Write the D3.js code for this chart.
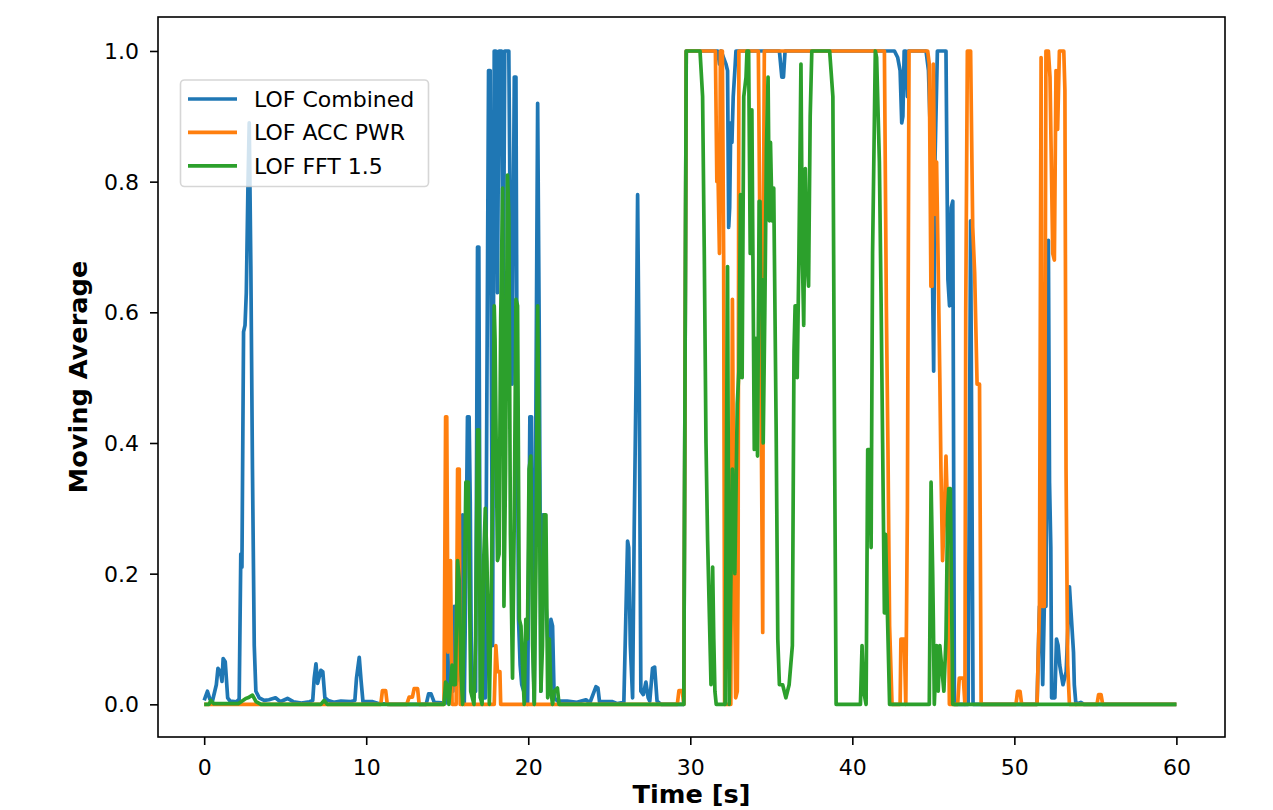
<!DOCTYPE html>
<html>
<head>
<meta charset="utf-8">
<script src="https://cdn.jsdelivr.net/npm/d3@7"></script>
<style>
  body { margin: 0; background: #fff; }
  svg { display: block; font-family: "DejaVu Sans", sans-serif; }
</style>
</head>
<body>
<div id="chart"></div>
<script>
// values: [time (s), moving average]
const combined = [[0,0.006],[0.2,0.02],[0.35,0.008],[0.5,0.004],[0.75,0.03],[0.85,0.055],[1.0,0.05],[1.1,0.035],[1.17,0.07],[1.3,0.065],[1.45,0.01],[1.6,0.005],[2.0,0.004],[2.16,0.008],[2.26,0.23],[2.33,0.21],[2.43,0.57],[2.52,0.58],[2.6,0.63],[2.7,0.79],[2.78,0.89],[2.88,0.67],[2.98,0.36],[3.09,0.09],[3.19,0.02],[3.4,0.01],[3.7,0.006],[4.0,0.007],[4.4,0.01],[4.7,0.004],[5.14,0.009],[5.5,0.004],[6.0,0.002],[6.5,0.004],[6.7,0.006],[6.79,0.04],[6.9,0.062],[7.0,0.032],[7.2,0.052],[7.32,0.05],[7.45,0.01],[7.65,0.006],[8.0,0.003],[8.44,0.005],[9.0,0.004],[9.3,0.006],[9.4,0.04],[9.57,0.072],[9.68,0.037],[9.8,0.004],[10.4,0.004],[10.8,0.001],[11.5,0],[13.7,0],[13.85,0.016],[14.0,0.016],[14.2,0.003],[14.9,0.002],[15.0,0.11],[15.1,0.03],[15.35,0.02],[15.43,0.15],[15.5,0.03],[15.8,0.05],[15.95,0.29],[16.05,0],[16.15,0.2],[16.25,0.44],[16.35,0.44],[16.42,0.31],[16.5,0.02],[16.75,0.02],[16.87,0.70],[16.95,0.70],[17.05,0.01],[17.35,0.01],[17.55,0.97],[17.65,0.97],[17.8,0.09],[17.9,1.0],[18.0,1.0],[18.1,0.63],[18.2,1.0],[18.35,1.0],[18.45,0.56],[18.55,1.0],[18.8,1.0],[18.9,0.69],[19.0,0.49],[19.14,0.96],[19.24,0.96],[19.3,0.56],[19.4,0.13],[19.5,0.06],[19.6,0.03],[19.96,0],[20.1,0.44],[20.2,0.44],[20.3,0.09],[20.37,0],[20.58,0.92],[20.68,0.56],[20.78,0.02],[20.9,0.29],[21.0,0.29],[21.1,0.15],[21.3,0.05],[21.4,0.13],[21.5,0.12],[21.6,0.01],[21.8,0.005],[22.4,0.005],[23.0,0.003],[23.56,0.007],[23.8,0.002],[24.18,0.027],[24.3,0.025],[24.4,0.004],[25.2,0.004],[25.5,0.001],[25.9,0.003],[26.13,0.25],[26.2,0.24],[26.3,0.09],[26.44,0.01],[26.54,0.27],[26.65,0.49],[26.75,0.78],[26.85,0.49],[26.95,0.02],[27.1,0.015],[27.26,0.034],[27.4,0.01],[27.5,0.005],[27.67,0.055],[27.8,0.057],[27.95,0.005],[28.2,0],[29.6,0],[29.75,1.0],[31.7,1.0],[31.8,0.98],[31.9,1.0],[32.2,0.98],[32.3,0.97],[32.37,0.73],[32.43,0.76],[32.5,0.89],[32.57,0.86],[32.65,0.93],[32.75,0.97],[32.82,1.0],[35.5,1.0],[35.65,0.96],[35.75,0.96],[35.85,1.0],[42.6,1.0],[42.8,0.99],[42.95,0.97],[43.05,0.89],[43.12,0.9],[43.2,1.0],[43.3,1.0],[43.4,0.93],[43.45,1.0],[44.55,1.0],[44.7,0.97],[44.9,0.8],[44.96,0.63],[45.02,0.51],[45.1,0.83],[45.25,1.0],[45.78,1.0],[45.9,0.65],[46.0,0.61],[46.1,0.76],[46.2,0.77],[46.3,0],[47.15,0],[47.3,0.74],[47.45,0],[51.4,0],[51.55,0.15],[51.65,0.15],[51.75,0.03],[51.85,0.15],[51.95,0.15],[52.1,0.71],[52.17,0.34],[52.25,0.24],[52.3,0.01],[52.5,0.01],[52.6,0.10],[52.7,0.09],[52.8,0.06],[53.0,0.03],[53.2,0.05],[53.4,0.18],[53.5,0.14],[53.6,0.1],[53.65,0.08],[53.7,0.03],[53.8,0],[54.1,0.003],[54.3,0],[60,0]];

const accPwr = [[0,0],[10.9,0],[11.0,0.021],[11.2,0.021],[11.3,0],[12.5,0],[12.65,0.011],[12.85,0.011],[12.96,0.024],[13.17,0.024],[13.27,0],[14.8,0],[14.9,0.44],[14.97,0.44],[15.05,0.08],[15.12,0.2],[15.2,0.22],[15.3,0],[15.55,0],[15.64,0.36],[15.74,0.36],[15.8,0],[17.9,0],[18.0,0.09],[18.1,0.05],[18.25,0.05],[18.3,0],[29.2,0],[29.3,0.021],[29.5,0.021],[29.6,0],[29.75,1.0],[31.55,1.0],[31.64,0.8],[31.72,0.8],[31.8,0.69],[31.86,1.0],[31.98,1.0],[32.06,0.68],[32.12,0],[32.5,0],[32.6,0.62],[32.68,0.3],[32.8,0.01],[32.9,0.02],[32.95,0.2],[33.0,1.0],[34.2,1.0],[34.3,0.71],[34.47,0.11],[34.52,0.77],[34.57,1.0],[41.98,1.0],[42.1,0.61],[42.2,0.39],[42.3,0.12],[42.45,0],[42.95,0],[43.0,0.1],[43.2,0.1],[43.3,0],[43.4,0.3],[43.5,1.0],[44.65,1.0],[44.75,0.98],[44.85,0.64],[44.92,0.64],[45.0,0.98],[45.1,0.75],[45.2,0.83],[45.3,0.67],[45.4,0.5],[45.47,0.36],[45.57,0.22],[45.7,0.3],[45.78,0.38],[45.88,0.29],[45.99,0],[46.5,0],[46.6,0.04],[46.85,0.04],[46.95,0],[47.0,0.6],[47.1,1.0],[47.3,1.0],[47.43,0.73],[47.55,0.66],[47.7,0.49],[47.85,0.49],[47.95,0],[50.1,0],[50.2,0.02],[50.35,0.02],[50.45,0],[51.4,0],[51.55,0.15],[51.65,0.99],[51.72,0.15],[51.85,0.15],[51.95,1.0],[52.1,1.0],[52.2,0.96],[52.37,0.69],[52.47,0.68],[52.57,0.97],[52.67,0.88],[52.78,1.0],[53.05,1.0],[53.12,0.94],[53.19,0.36],[53.29,0.06],[53.4,0],[55.1,0],[55.2,0.015],[55.35,0.015],[55.45,0],[60,0]];

const fft = [[0,0],[0.3,0],[0.41,0.006],[0.6,0.001],[2.1,0.001],[2.57,0.009],[2.7,0.01],[2.98,0.014],[3.2,0.004],[3.5,0],[7.2,0],[7.4,0.006],[7.6,0],[14.8,0],[14.9,0.034],[15.0,0.03],[15.1,0],[15.3,0.06],[15.4,0.03],[15.5,0.03],[15.64,0.22],[15.74,0.19],[15.85,0.05],[15.95,0],[16.05,0.15],[16.15,0.34],[16.3,0.34],[16.45,0.02],[16.65,0],[16.75,0.1],[16.87,0.42],[16.95,0.42],[17.05,0.01],[17.15,0],[17.25,0.22],[17.35,0.3],[17.45,0.22],[17.6,0],[17.75,0.22],[17.9,0.61],[17.95,0.56],[18.1,0.22],[18.2,0.23],[18.3,0.59],[18.42,0.79],[18.5,0.15],[18.6,0.36],[18.72,0.81],[18.8,0.75],[18.9,0.26],[19.03,0.04],[19.14,0.29],[19.24,0.62],[19.34,0.61],[19.45,0.13],[19.55,0.12],[19.75,0],[19.85,0.13],[19.95,0.1],[20.05,0.36],[20.16,0.38],[20.27,0.09],[20.37,0],[20.48,0.22],[20.58,0.61],[20.68,0.36],[20.78,0.02],[20.88,0.09],[20.99,0.29],[21.09,0.29],[21.2,0.01],[21.3,0.1],[21.4,0.02],[21.5,0],[21.6,0.02],[21.8,0.025],[21.9,0],[29.6,0],[29.75,1.0],[30.6,1.0],[30.76,0.93],[30.86,0.7],[30.97,0.40],[31.07,0.25],[31.28,0.03],[31.38,0.21],[31.45,0.10],[31.52,0.02],[31.6,0],[32.15,0],[32.3,0.67],[32.4,0],[32.6,0.36],[32.75,0.2],[32.9,0.46],[33.0,0.51],[33.1,0.78],[33.2,0.5],[33.3,0.93],[33.44,0.96],[33.5,1.0],[33.6,1.0],[33.7,0.69],[33.8,0.91],[33.95,0.39],[34.05,0.56],[34.15,0.38],[34.25,0.77],[34.3,0.77],[34.35,0.61],[34.42,0.65],[34.5,0.4],[34.6,0.6],[34.7,0.85],[34.8,0.96],[34.88,0.74],[34.95,0.86],[35.05,0.74],[35.15,0.79],[35.3,0.42],[35.4,0.10],[35.5,0.03],[35.7,0.03],[35.9,0.01],[36.1,0.03],[36.3,0.09],[36.4,0.54],[36.47,0.61],[36.53,0.61],[36.6,0.5],[36.7,0.68],[36.83,0.98],[36.92,0.68],[37.0,0.58],[37.1,0.82],[37.2,0.68],[37.3,0.64],[37.4,0.9],[37.5,1.0],[38.6,1.0],[38.8,0.93],[38.9,0.42],[39.0,0],[40.5,0],[40.6,0.09],[40.7,0.02],[40.85,0],[40.95,0.39],[41.05,0.39],[41.16,0.24],[41.25,0.69],[41.42,1.0],[41.5,0.99],[41.67,0.83],[41.77,0.63],[41.87,0.4],[41.98,0.14],[42.05,0.26],[42.3,0],[44.75,0],[44.86,0.34],[44.96,0.2],[45.0,0.13],[45.06,0],[45.2,0.09],[45.3,0.02],[45.4,0.09],[45.65,0.02],[45.78,0.1],[45.88,0.29],[45.95,0.33],[46.05,0.33],[46.2,0],[60,0]];

const seriesNames = ["LOF Combined", "LOF ACC PWR", "LOF FFT 1.5"];
const seriesColors = ["#1f77b4", "#ff7f0e", "#2ca02c"];
const xTicks = [0, 10, 20, 30, 40, 50, 60];
const yTicks = [0, 0.2, 0.4, 0.6, 0.8, 1.0];

const W = 1273, H = 810;
const margin = {top: 17, right: 48, bottom: 73, left: 158};
const FS = 22;      // ticks and legend
const LFS = 25.6;   // axis labels
const LW = 3.7;     // series line width

const svg = d3.select("#chart")
  .append("svg")
  .attr("width", W)
  .attr("height", H);

// scales
const x = d3.scaleLinear()
  .domain([-2.85, 63])
  .range([margin.left, W - margin.right]);
const y = d3.scaleLinear()
  .domain([-0.05, 1.052])
  .range([H - margin.bottom, margin.top]);

// lines
const line = d3.line()
  .x(d => x(d[0]))
  .y(d => y(d[1]));

[combined, accPwr, fft].forEach((data, i) => {
  svg.append("path")
    .datum(data)
    .attr("fill", "none")
    .attr("stroke", seriesColors[i])
    .attr("stroke-width", LW)
    .attr("stroke-linejoin", "round")
    .attr("d", line);
});

// X axis
const xAxis = svg.append("g")
  .attr("transform", `translate(0, ${H - margin.bottom})`)
  .call(d3.axisBottom(x).tickValues(xTicks).tickSize(8).tickFormat(d3.format("d")));
xAxis.select(".domain").remove();
xAxis.selectAll("line").attr("stroke", "#000").attr("stroke-width", 1.6);
xAxis.selectAll("text")
  .attr("y", 38).attr("dy", null)
  .attr("fill", "#000")
  .style("font-size", FS + "px")
  .style("font-family", "DejaVu Sans");

// Y axis
const yAxis = svg.append("g")
  .attr("transform", `translate(${margin.left}, 0)`)
  .call(d3.axisLeft(y).tickValues(yTicks).tickSize(8).tickFormat(d3.format(".1f")));
yAxis.select(".domain").remove();
yAxis.selectAll("line").attr("stroke", "#000").attr("stroke-width", 1.6);
yAxis.selectAll("text")
  .attr("x", -19).attr("dy", "0.34em")
  .attr("fill", "#000")
  .style("font-size", FS + "px")
  .style("font-family", "DejaVu Sans");

// frame
svg.append("rect")
  .attr("x", margin.left)
  .attr("y", margin.top)
  .attr("width", W - margin.left - margin.right)
  .attr("height", H - margin.top - margin.bottom)
  .attr("fill", "none")
  .attr("stroke", "#000")
  .attr("stroke-width", 1.6);

// axis labels
svg.append("text")
  .attr("x", (margin.left + W - margin.right) / 2)
  .attr("y", 803)
  .attr("text-anchor", "middle")
  .style("font-size", LFS + "px")
  .style("font-weight", "bold")
  .text("Time [s]");

svg.append("text")
  .attr("transform", `translate(87, ${(margin.top + H - margin.bottom) / 2}) rotate(-90)`)
  .attr("text-anchor", "middle")
  .style("font-size", LFS + "px")
  .style("font-weight", "bold")
  .text("Moving Average");

// legend
const legend = svg.append("g");
legend.append("rect")
  .attr("x", 180.5).attr("y", 80)
  .attr("width", 248).attr("height", 106.5)
  .attr("rx", 4)
  .attr("fill", "rgba(255,255,255,0.8)")
  .attr("stroke", "rgba(204,204,204,0.8)")
  .attr("stroke-width", 1.6);

seriesNames.forEach((name, i) => {
  const ly = 99 + i * 33.4;
  legend.append("line")
    .attr("x1", 188).attr("x2", 237)
    .attr("y1", ly).attr("y2", ly)
    .attr("stroke", seriesColors[i])
    .attr("stroke-width", LW);
  legend.append("text")
    .attr("x", 254)
    .attr("y", ly + 7.8)
    .style("font-size", FS + "px")
    .text(name);
});
</script>
</body>
</html>
